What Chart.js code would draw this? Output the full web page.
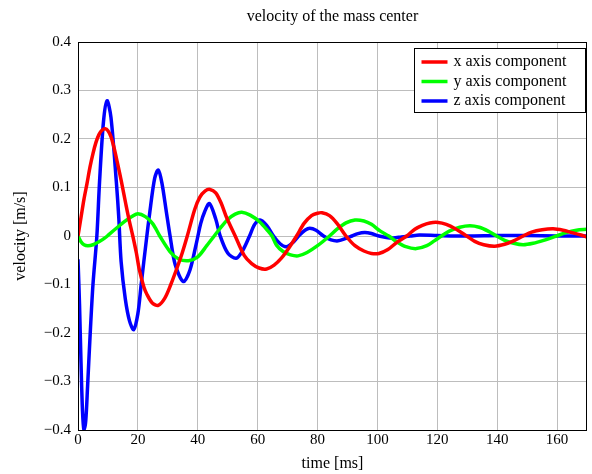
<!DOCTYPE html>
<html>
<head>
<meta charset="utf-8">
<script src="https://cdn.jsdelivr.net/npm/chart.js@4"></script>
<style>
  html, body { margin: 0; padding: 0; background: #fff; }
  #wrap { width: 592px; height: 474px; }
</style>
</head>
<body>
<div id="wrap"><canvas id="velocityChart" width="592" height="474"></canvas></div>
<script>
// velocity of the mass center - x / y / z components over time [ms]

const seriesNames = ['x axis component', 'y axis component', 'z axis component'];
const seriesColors = ['#ff0000', '#00ff00', '#0000ff'];

const xTime = [0, 1, 2, 3, 4, 5, 6, 7, 8, 9.1, 10, 11, 12, 13.3, 14.5, 16, 17, 18.3, 19.5, 20.5, 22, 23,
    24.8, 26.8, 29, 31, 33, 34.8, 36.5, 39, 40.7, 42.5, 44.1, 46, 47.8, 49.7, 52.5, 55.5, 58, 60.5, 63,
    65.5, 68, 70.5, 73, 75.5, 78, 80, 81.5, 84, 86.5, 89.5, 92.5, 95.5, 98, 100.5, 103.5, 106.5, 109.8,
    112.5, 115, 117.5, 120.3, 123, 126, 129.8, 132.5, 135.5, 139.2, 142.5, 145.5, 148.7, 151.5, 155,
    158.7, 162, 165, 168, 170];
const xVel = [0, 0.038, 0.076, 0.108, 0.142, 0.17, 0.193, 0.209, 0.218, 0.221, 0.217, 0.205, 0.183, 0.147,
    0.112, 0.065, 0.035, 0, -0.035, -0.07, -0.105, -0.12, -0.138, -0.143, -0.128, -0.1, -0.067, -0.035,
    0, 0.055, 0.08, 0.093, 0.096, 0.089, 0.068, 0.037, 0, -0.04, -0.057, -0.066, -0.068, -0.06, -0.045,
    -0.024, 0, 0.026, 0.042, 0.047, 0.048, 0.042, 0.026, 0, -0.02, -0.031, -0.036, -0.036, -0.028,
    -0.013, 0, 0.014, 0.022, 0.027, 0.028, 0.024, 0.015, 0, -0.011, -0.018, -0.021, -0.017, -0.01, 0,
    0.008, 0.013, 0.015, 0.012, 0.007, 0.002, -0.002];

const yTime = [0, 1, 2, 3.3, 5, 7, 9, 10.5, 13, 15.6, 18, 20, 22.5, 25, 27.3, 30.7, 33.5, 36.9, 40, 43,
    45.5, 47.5, 50, 52.5, 54.7, 57.5, 60.7, 63.5, 64.8, 66.3, 68.5, 71, 73.5, 76.5, 80, 84, 86.5, 89.5,
    92.5, 95.5, 98, 101, 103.8, 106.5, 109.5, 113, 116.5, 119, 121.4, 124, 127.5, 130.9, 134, 137,
    139.8, 142.5, 145.5, 148.7, 152, 155.5, 159.8, 163, 166.5, 170];
const yVel = [0, -0.012, -0.018, -0.02, -0.018, -0.012, -0.004, 0.004, 0.017, 0.03, 0.04, 0.046, 0.04,
    0.025, 0, -0.032, -0.047, -0.051, -0.043, -0.02, 0, 0.016, 0.034, 0.045, 0.049, 0.043, 0.029, 0.01,
    0, -0.019, -0.032, -0.039, -0.041, -0.034, -0.02, 0, 0.014, 0.027, 0.033, 0.031, 0.024, 0.01, 0,
    -0.012, -0.022, -0.026, -0.02, -0.01, 0, 0.01, 0.018, 0.021, 0.018, 0.01, 0, -0.009, -0.015, -0.018,
    -0.015, -0.009, 0, 0.007, 0.012, 0.014];

const zTime = [0, 0.5, 1, 1.5, 2, 2.6, 3.2, 4, 5, 6.3, 7.2, 8.5, 9.7, 11, 12.8, 13.6, 14.4, 15.8, 17.2,
    18.6, 20, 21.1, 22.8, 24, 25.6, 26.8, 28, 29.5, 30.7, 32.5, 35.2, 37.4, 39.6, 41, 42.3, 43.9, 46,
    47.5, 50, 52.8, 55, 57.3, 59, 60.8, 63, 65.3, 67.5, 69.6, 72, 74, 75.8, 77.4, 79.5, 82, 84.5, 86.9,
    89, 91.5, 93.5, 95.8, 98, 100.5, 103, 105.3, 108, 111, 114, 120, 130, 140, 150, 160, 170];
const zVel = [-0.048, -0.14, -0.26, -0.36, -0.4, -0.38, -0.31, -0.21, -0.1, 0, 0.112, 0.235, 0.279,
    0.245, 0.112, 0.04, -0.053, -0.13, -0.175, -0.193, -0.16, -0.1, -0.01, 0.05, 0.119, 0.136, 0.11,
    0.05, 0.002, -0.06, -0.094, -0.07, -0.013, 0.026, 0.05, 0.067, 0.035, 0, -0.035, -0.046, -0.03, 0,
    0.024, 0.033, 0.022, 0, -0.016, -0.022, -0.012, 0.002, 0.012, 0.016, 0.012, 0, -0.008, -0.01,
    -0.006, 0, 0.005, 0.007, 0.005, 0, -0.003, -0.004, -0.002, 0, 0.002, 0.001, 0, 0.001, 0.001, 0, 0];

const xTicks = [0, 20, 40, 60, 80, 100, 120, 140, 160];
const yTicks = [-0.4, -0.3, -0.2, -0.1, 0, 0.1, 0.2, 0.3, 0.4];

const serif = "'Liberation Serif', 'DejaVu Serif', serif";

function toPoints(times, values) {
    return times.map((t, i) => ({ x: t, y: values[i] }));
}

function fmtTick(v) {
    if (Math.abs(v) < 1e-9) return '0';
    return (v < 0 ? '\u2212' : '') + Math.abs(v).toFixed(1);
}

// frame, title and the boxed legend in the upper right corner
const decorPlugin = {
    id: 'decor',
    afterDraw(chart) {
        const ctx = chart.ctx;
        const a = chart.chartArea;
        ctx.save();
        ctx.strokeStyle = '#000';
        ctx.lineWidth = 1;
        ctx.strokeRect(Math.round(a.left) + 0.5, Math.round(a.top) + 0.5,
            Math.round(a.right - a.left) - 1, Math.round(a.bottom - a.top));

        ctx.fillStyle = '#000';
        ctx.font = '16px ' + serif;
        ctx.textAlign = 'center';
        ctx.textBaseline = 'middle';
        ctx.fillText('velocity of the mass center', (a.left + a.right) / 2, 17);

        // legend
        const bx = 414.5, by = 48.5, bw = 171, bh = 64;
        ctx.fillStyle = '#fff';
        ctx.fillRect(bx, by, bw, bh);
        ctx.strokeRect(bx, by, bw, bh);
        ctx.font = '16px ' + serif;
        ctx.textAlign = 'left';
        chart.data.datasets.forEach((ds, i) => {
            const ly = by + 13.5 + i * 19.5;
            ctx.strokeStyle = ds.borderColor;
            ctx.lineWidth = 3.5;
            ctx.beginPath();
            ctx.moveTo(bx + 7, ly);
            ctx.lineTo(bx + 33, ly);
            ctx.stroke();
            ctx.fillStyle = '#000';
            ctx.fillText(ds.label, bx + 39, ly);
        });
        ctx.restore();
    }
};

const datasets = [
    toPoints(xTime, xVel),
    toPoints(yTime, yVel),
    toPoints(zTime, zVel)
].map((pts, i) => ({
    label: seriesNames[i],
    data: pts,
    borderColor: seriesColors[i],
    backgroundColor: seriesColors[i],
    borderWidth: 3.5,
    pointRadius: 0,
    fill: false,
    tension: 0.3
}));

new Chart(document.getElementById('velocityChart'), {
    type: 'line',
    data: { datasets: datasets },
    options: {
        responsive: false,
        animation: false,
        layout: { padding: { top: 42, right: 5, left: 0, bottom: 0 } },
        plugins: {
            legend: { display: false },
            title: { display: false },
            tooltip: { enabled: false }
        },
        scales: {
            x: {
                type: 'linear',
                min: 0,
                max: 170,
                afterFit(scale) { scale.height = 44; },
                afterBuildTicks(scale) { scale.ticks = xTicks.map(v => ({ value: v })); },
                ticks: { color: '#000', font: { family: serif, size: 15 }, padding: 1, maxRotation: 0 },
                grid: { color: '#bdbdbd', lineWidth: 1, drawTicks: false },
                border: { display: false },
                title: { display: true, text: 'time [ms]', color: '#000',
                    font: { family: serif, size: 16 }, padding: { top: 0, bottom: 1 } }
            },
            y: {
                min: -0.4,
                max: 0.4,
                afterFit(scale) { scale.width = 78; },
                afterBuildTicks(scale) { scale.ticks = yTicks.map(v => ({ value: v })); },
                ticks: { color: '#000', font: { family: serif, size: 15 }, padding: 7,
                    callback: v => fmtTick(v) },
                grid: { color: '#bdbdbd', lineWidth: 1, drawTicks: false },
                border: { display: false },
                title: { display: true, text: 'velocity [m/s]', color: '#000',
                    font: { family: serif, size: 16 }, padding: { top: 11, bottom: 0 } }
            }
        }
    },
    plugins: [decorPlugin]
});
</script>
</body>
</html>
